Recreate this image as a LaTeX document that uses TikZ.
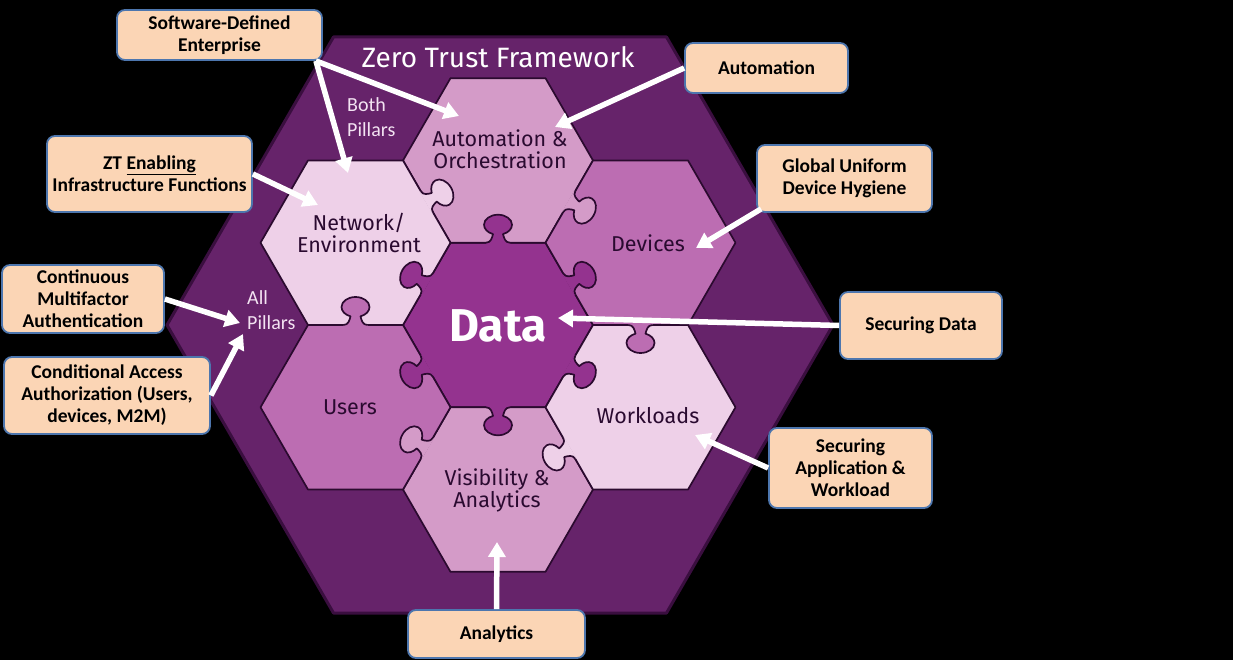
\documentclass[tikz,border=0pt]{standalone}
\usepackage{fontspec}
\setmainfont{Carlito}
\newfontfamily\hexfont{Fira Sans}
\usetikzlibrary{arrows.meta}
\definecolor{outerhex}{HTML}{66236A}
\definecolor{outerline}{HTML}{3A0E3F}
\definecolor{tileline}{HTML}{2B0A2F}
\definecolor{cdata}{HTML}{94338F}
\definecolor{clight}{HTML}{EED0E8}
\definecolor{cmid}{HTML}{D49BC8}
\definecolor{cdark}{HTML}{BC6DB2}
\definecolor{boxfill}{HTML}{FBD5B5}
\definecolor{boxline}{HTML}{4D76AE}
\definecolor{labeltext}{HTML}{2A0A30}
\definecolor{pillartext}{HTML}{F3E3F2}
\tikzset{
  tileedge/.style={draw=tileline, line width=1.7pt, line join=round},
  hexlabel/.style={font=\hexfont\fontsize{21.5}{22}\selectfont, text=labeltext, align=center, inner sep=0pt},
  infobox/.style={draw=boxline, line width=1.8pt, fill=boxfill, rounded corners=8pt,
    font=\bfseries\fontsize{19.5}{22}\selectfont, align=center, inner sep=0pt, text=black},
  pillar/.style={font=\fontsize{20}{25}\selectfont, text=pillartext, align=left, inner sep=0pt, anchor=west},
  arr/.style={draw=white, line width=5.5pt, -{Triangle[length=15pt,width=17pt]}}
}
\newcommand\ztknobpath{.. controls (0,-7) and (5,-6) .. (8.66,-5) .. controls (10.14,-10.42) and (13.86,-14) .. (18,-14) .. controls (23.52,-14) and (28,-7.73) .. (28,0) .. controls (28,7.73) and (23.52,14) .. (18,14) .. controls (13.86,14) and (10.14,10.42) .. (8.66,5) .. controls (5,6) and (0,7) .. (0,12)}
\newcommand\ztknob[4]{%
  \begin{scope}[shift={(#1,#2)},rotate=#3]
    \fill[#4] (-1.3,-12) -- (0,-12) \ztknobpath -- (-1.3,12) -- cycle;
    \draw[tileedge] (0,-12) \ztknobpath;
  \end{scope}}
\newcommand\zttile[3]{\filldraw[fill=#3, tileedge] (#1,#2) ++(95,0) -- ++(-47.5,82.27) -- ++(-95,0) -- ++(-47.5,-82.27) -- ++(47.5,-82.27) -- ++(95,0) -- cycle;}
\begin{document}
\begin{tikzpicture}[x=1pt,y=-1pt]
\fill[black] (0,0) rectangle (1233,660);
\useasboundingbox (0,0) rectangle (1233,660);
% outer hexagon
\filldraw[fill=outerhex, draw=outerline, line width=3pt, line join=round]
  (833,325) -- (666.5,37) -- (333.5,37) -- (167,325) -- (333.5,613) -- (666.5,613) -- cycle;
% tiles
\zttile{498}{325}{cdata}
\zttile{498}{160.46}{cmid}
\zttile{498}{489.54}{cmid}
\zttile{355.5}{242.73}{clight}
\zttile{640.5}{242.73}{cdark}
\zttile{355.5}{407.27}{cdark}
\zttile{640.5}{407.27}{clight}
% knobs
\ztknob{498}{242.73}{90}{cdata}
\ztknob{498}{407.27}{270}{cdata}
\ztknob{426.75}{283.865}{150}{cdata}
\ztknob{426.75}{366.135}{210}{cdata}
\ztknob{569.25}{283.865}{30}{cdata}
\ztknob{569.25}{366.135}{330}{cdata}
\ztknob{426.75}{201.6}{30}{clight}
\ztknob{569.25}{201.6}{330}{cmid}
\ztknob{640.5}{325}{270}{cdark}
\ztknob{569.25}{448.4}{210}{clight}
\ztknob{426.75}{448.4}{150}{cmid}
\ztknob{355.5}{325}{90}{cdark}
% texts in hexagon
\node[font=\hexfont\fontsize{28}{30}\selectfont, text=white, inner sep=0pt] (title) at (498,57) {Zero Trust Framework};
\node[hexlabel] (lauto) at (500,149) {Automation \&\\Orchestration};
\node[hexlabel] (lnet) at (359,233) {Network/\\Environment};
\node[hexlabel] (ldev) at (648,243) {Devices};
\node[hexlabel] (lusers) at (350,407) {Users};
\node[hexlabel] (lwork) at (648,416) {Workloads};
\node[hexlabel] (lvis) at (497,490) {Visibility \&\\Analytics};
\node[font=\hexfont\bfseries\fontsize{46}{46}\selectfont, text=white, inner sep=0pt] (ldata) at (498,326) {Data};
\node[pillar] (both) at (347,117.5) {Both\\Pillars};
\node[pillar] (all) at (247,310) {All\\Pillars};
% boxes
\node[infobox, minimum width=205pt, minimum height=50pt] (sde) at (219.5,35) {Software-Defined\\Enterprise};
\node[infobox, minimum width=163pt, minimum height=50pt] (auto) at (766.5,68) {Automation};
\node[infobox, minimum width=205pt, minimum height=76pt] (zte) at (149.5,174) {ZT \underline{Enabling}\\Infrastructure Functions};
\node[infobox, minimum width=175pt, minimum height=67pt] (guh) at (844.5,178.5) {Global Uniform\\Device Hygiene};
\node[infobox, minimum width=162pt, minimum height=68pt] (cma) at (83,299) {Continuous\\Multifactor\\Authentication};
\node[infobox, minimum width=162pt, minimum height=67pt] (sdat) at (921,325.5) {Securing Data};
\node[infobox, minimum width=206pt, minimum height=77pt] (caa) at (107,395.5) {Conditional Access\\Authorization (Users,\\devices, M2M)};
\node[infobox, minimum width=163pt, minimum height=80pt] (saw) at (850.5,468) {Securing\\Application \&\\Workload};
\node[infobox, minimum width=177pt, minimum height=48pt] (ana) at (496.5,634) {Analytics};
% arrow tips
\coordinate (tauto1) at (459,116);
\coordinate (tnet1) at (348,173);
\coordinate (tauto2) at (555,127);
\coordinate (tnet2) at (318,205);
\coordinate (tdev) at (696,248);
\coordinate (tall1) at (240,323);
\coordinate (tall2) at (243,334);
\coordinate (tdata) at (558,318);
\coordinate (twork) at (695,435);
\coordinate (tvis) at (497,542);
% arrows
\draw[arr] ([xshift=-7pt]sde.south east) -- (tauto1);
\draw[arr] ([xshift=-7pt]sde.south east) -- (tnet1);
\draw[arr] (auto.west) -- (tauto2);
\draw[arr] (zte.east) -- (tnet2);
\draw[arr] ([xshift=5pt,yshift=4pt]guh.south west) -- (tdev);
\draw[arr] (cma.east) -- (tall1);
\draw[arr] (caa.east) -- (tall2);
\draw[arr] (sdat.west) -- (tdata);
\draw[arr] (saw.west) -- (twork);
\draw[arr] (ana.north) -- (tvis);
\end{tikzpicture}
\end{document}
